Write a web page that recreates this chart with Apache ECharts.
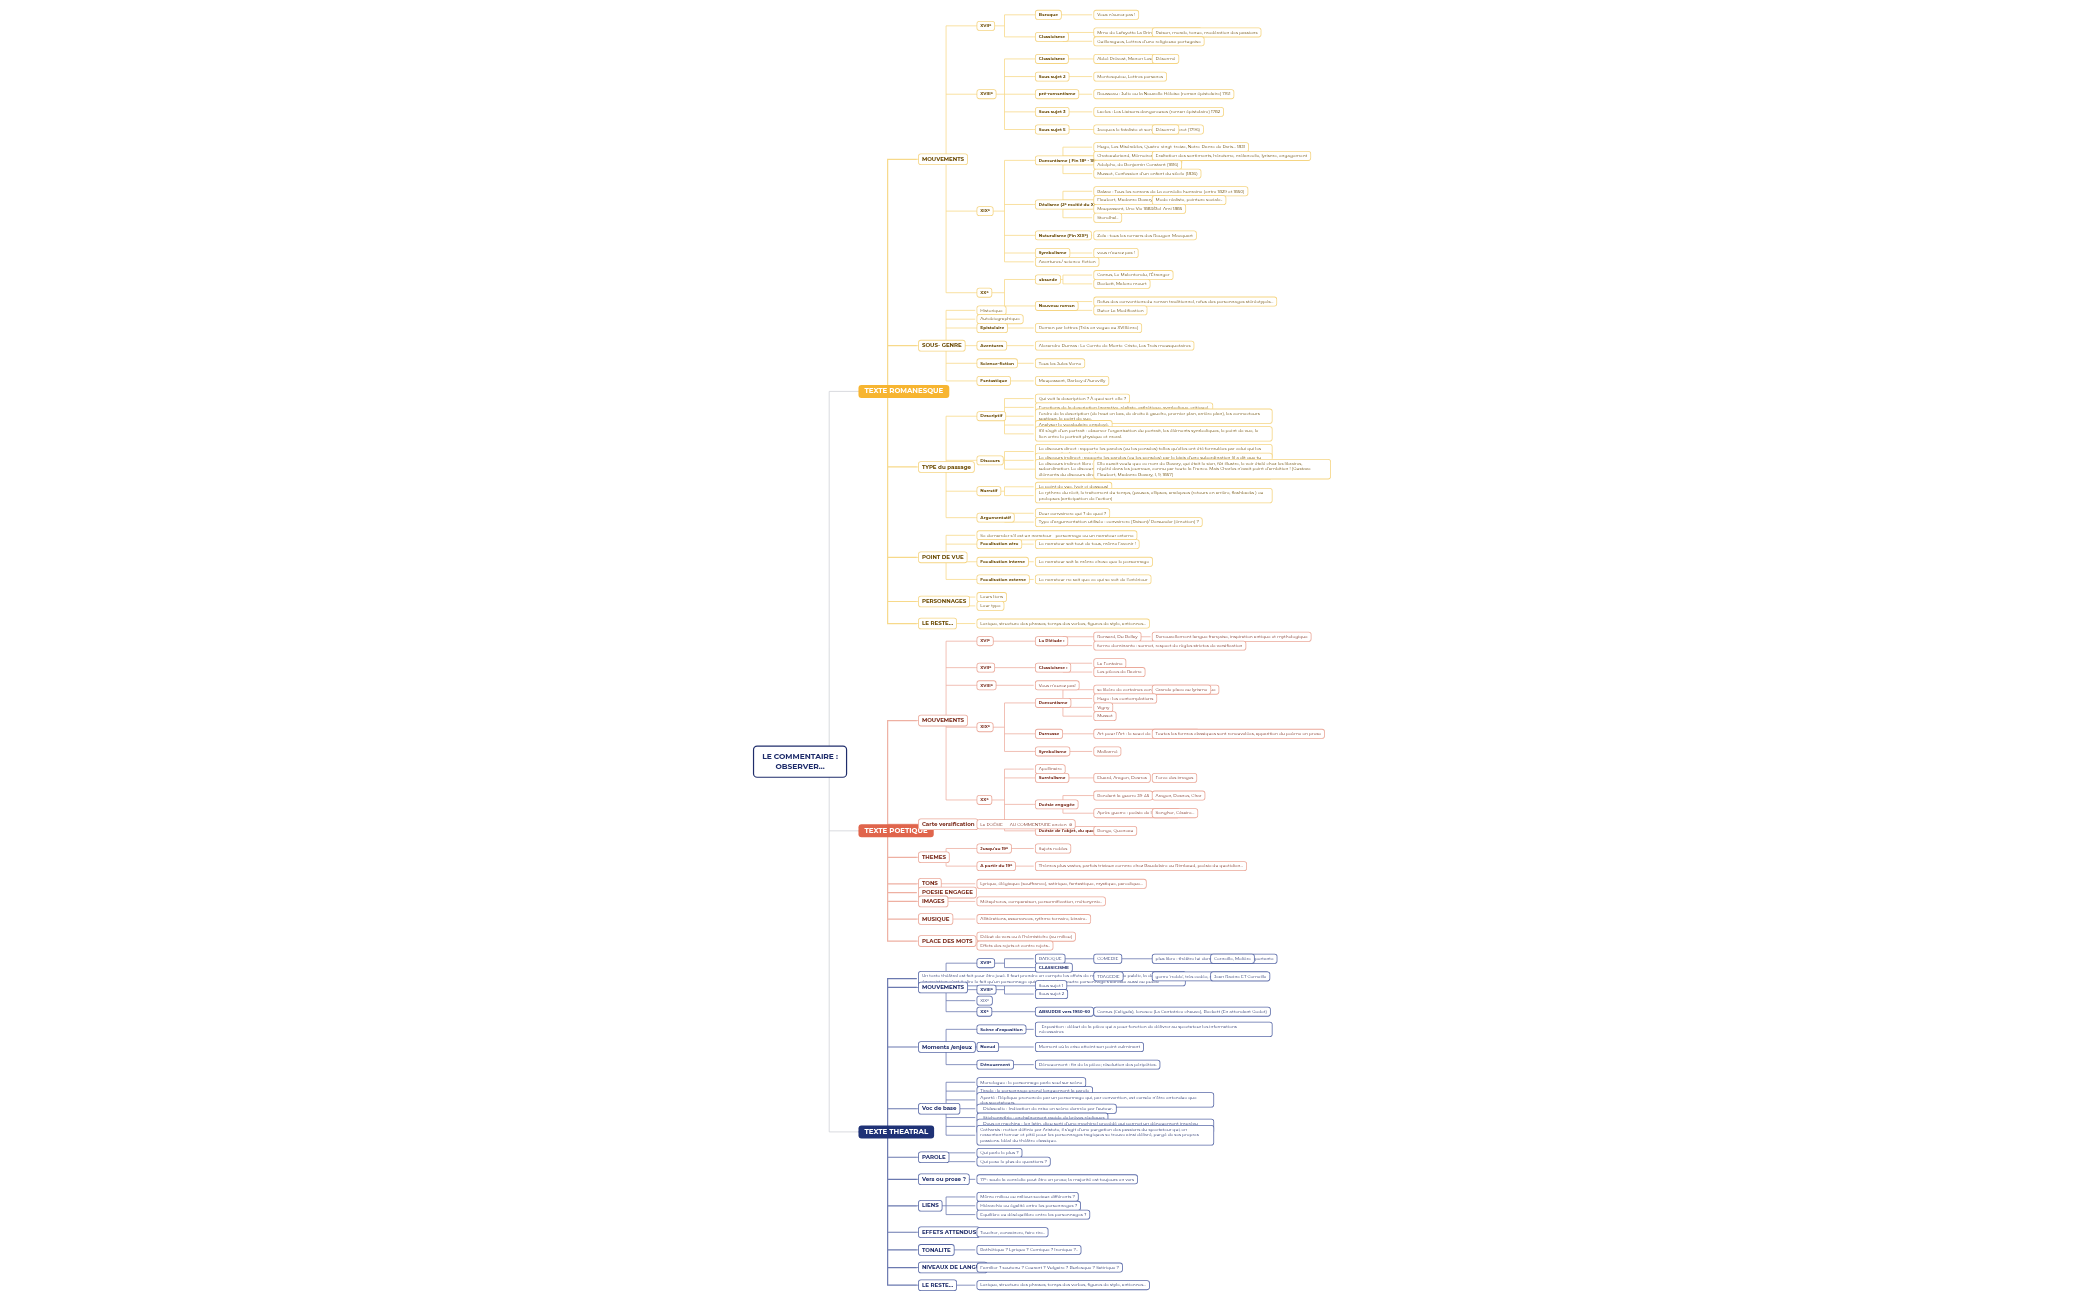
<!DOCTYPE html>
<html><head><meta charset="utf-8">
<script src="https://cdn.jsdelivr.net/npm/echarts@6/dist/echarts.min.js"></script>
<style>html,body{margin:0;background:#fff}#c{width:2099px;height:1300px}</style>
</head><body><div id="c"></div>
<script>
function n(name, children){ return children ? {name:name, children:children} : {name:name}; }

const romanesque = [
  n('MOUVEMENTS',[
    n('XVIIᵉ',[
      n('Baroque',[n('Vous n\'aurez pas !')]),
      n('Classicisme',[n('Mme de Lafayette La Princesse de Clèves (1678)',[n('Raison, morale, tenue, modération des passions')]), n('Guilleragues, Lettres d\'une religieuse portugaise')])
    ]),
    n('XVIIIᵉ',[
      n('Classicisme',[n('Abbé Prévost, Manon Lescaut (1731)',[n('Désormé')])]),
      n('Sous sujet 2',[n('Montesquieu, Lettres persanes')]),
      n('pré-romantisme',[n('Rousseau : Julie ou la Nouvelle Héloïse (roman épistolaire) 1761')]),
      n('Sous sujet 3',[n('Laclos : Les Liaisons dangereuses (roman épistolaire) 1782')]),
      n('Sous sujet 5',[n('Jacques le fataliste et son maître : Diderot (1796)',[n('Désormé')])])
    ]),
    n('XIXᵉ',[
      n('Romantisme ( Fin 18ᵉ - 1850) mais perdure en fait tout le siècle',[
        n('Hugo, Les Misérables, Quatre-vingt-treize, Notre-Dame de Paris... 1831'),
        n('Chateaubriand, Mémoires d\'outre-tombe (autobiographie/roman du \'moi\') 1848',[n('Exaltation des sentiments, héroïsme, mélancolie, lyrisme, engagement')]),
        n('Adolphe, de Benjamin Constant (1816)'),
        n('Musset, Confession d\'un enfant du siècle (1836)')]),
      n('Réalisme (2ᵉ moitié du XIXᵉ)',[
        n('Balzac : Tous les romans de La comédie humaine (entre 1829 et 1850)'),
        n('Flaubert, Madame Bovary 1857',[n('Mode réaliste, peinture sociale..')]),
        n('Maupassant, Une Vie 1883/Bel-Ami 1885'),
        n('Stendhal..')]),
      n('Naturalisme (Fin XIXᵉ)',[n('Zola : tous les romans des Rougon-Macquart')]),
      n('Symbolisme',[n('vous n\'aurez pas !')]),
      n('Aventures / science-fiction')
    ]),
    n('XXᵉ',[
      n('absurde',[n('Camus, Le Malentendu, l\'Étranger'), n('Beckett, Malone meurt')]),
      n('Nouveau roman',[n('Refus des conventions du roman traditionnel, refus des personnages stéréotypés...'), n('Butor La Modification')])
    ])
  ]),
  n('SOUS- GENRE',[
    n('Historique'), n('Autobiographique'),
    n('Epistolaire',[n('Roman par lettres (Très en vogue au XVIIIème)')]),
    n('Aventures',[n('Alexandre Dumas : Le Comte de Monte-Cristo, Les Trois mousquetaires')]),
    n('Science-fiction',[n('Tous les Jules Verne')]),
    n('Fantastique',[n('Maupassant, Barbey d\'Aurevilly')])
  ]),
  n('TYPE du passage',[
    n('Descriptif',[
      n('Qui voit la description ? À quoi sert-elle ?'),
      n('Fonctions de la description (narrative, réaliste, esthétique, symbolique, critique).'),
      n('l\'ordre de la description (de haut en bas, de droite à gauche, premier plan, arrière plan), les connecteurs spatiaux, le point de vue.'),
      n('Analyser le vocabulaire employé.'),
      n('S\'il s\'agit d\'un portrait : observer l\'organisation du portrait, les éléments symboliques, le point de vue, le lien entre le portrait physique et moral.')]),
    n('Discours',[
      n('Le discours direct : rapporte les paroles (ou les pensées) telles qu\'elles ont été formulées par celui qui les a prononcées (ou pensées).'),
      n('Le discours indirect : rapporte les paroles (ou les pensées) par le biais d\'une subordination (il a dit que tu ne viendrais pas.)'),
      n('Le discours indirect libre : rapporte les paroles (ou les pensées) de manière indirecte mais sans utiliser de subordination. Le discours indirect libre se fond dans le récit. Il conserve des marques du récit et des éléments du discours direct.',[
        n('Elle aurait voulu que ce nom de Bovary, qui était le sien, fût illustre, le voir étalé chez les libraires, répété dans les journaux, connu par toute la France. Mais Charles n\'avait point d\'ambition ! (Gustave Flaubert, Madame Bovary, I, 9, 1857)')])]),
    n('Narratif',[
      n('Le point de vue, (voir ci-dessous)'),
      n('Le rythme du récit, le traitement du temps, (pauses, ellipses, analepses (retours en arrière, flashbacks ) ou prolepses (anticipation de l\'action)')]),
    n('Argumentatif',[
      n('Pour convaincre qui ? de quoi ?'),
      n('Type d\'argumentation utilisée : convaincre (Raison)/ Persuader (émotion) ?')])
  ]),
  n('POINT DE VUE',[
    n('Se demander s\'il est un narrateur - personnage ou un narrateur externe'),
    n('Focalisation zéro',[n('Le narrateur sait tout de tous, même l\'avenir !')]),
    n('Focalisation interne',[n('Le narrateur sait la même chose que le personnage')]),
    n('Focalisation externe',[n('Le narrateur ne sait que ce qui se voit de l\'extérieur')])
  ]),
  n('PERSONNAGES',[n('Leurs liens'), n('Leur type')]),
  n('LE RESTE...',[n('Lexique, structure des phrases, temps des verbes, figures de style, antiennes...')])
];

const poetique = [
  n('MOUVEMENTS',[
    n('XVIᵉ',[n('La Pléiade :',[n('Ronsard, Du Bellay',[n('Renouvellement langue française, inspiration antique et mythologique')]), n('forme dominante : sonnet, respect de règles strictes de versification')])]),
    n('XVIIᵉ',[n('Classicisme :',[n('La Fontaine'), n('Les pièces de Racine')])]),
    n('XVIIIᵉ',[n('Vous n\'aurez pas!')]),
    n('XIXᵉ',[
      n('Romantisme',[n('se libère de certaines contraintes de la poésie classique',[n('Grande place au lyrisme')]), n('Hugo : les contemplations'), n('Vigny'), n('Musset')]),
      n('Parnasse',[n('Art pour l\'Art : le souci de la forme, parole fond',[n('Toutes les formes classiques sont renouvelées, apparition du poème en prose')])]),
      n('Symbolisme',[n('Mallarmé')])
    ]),
    n('XXᵉ',[
      n('Apollinaire'),
      n('Surréalisme',[n('Eluard, Aragon, Desnos',[n('Force des images')])]),
      n('Poésie engagée',[n('Pendant la guerre 39-45',[n('Aragon, Desnos, Char')]), n('Après-guerre : poésie de la négritude',[n('Senghor, Césaire...')])]),
      n('Poésie de l\'objet, du quotidien',[n('Ponge, Queneau')])
    ])
  ]),
  n('Carte versification',[n('La POÉSIE      AU COMMENTAIRE ancien  ⊘')]),
  n('THEMES',[n('Jusqu\'au 19ᵉ',[n('Sujets nobles')]), n('A partir du 19ᵉ',[n('Thèmes plus vastes, parfois triviaux comme chez Baudelaire ou Rimbaud, poésie du quotidien...')])]),
  n('TONS',[n('Lyrique, élégiaque (souffrance), satirique, fantastique, mystique, parodique...')]),
  n('POESIE ENGAGEE'),
  n('IMAGES',[n('Métaphores, comparaison, personnification, métonymie..')]),
  n('MUSIQUE',[n('Allitérations, assonances, rythme ternaire, binaire..')]),
  n('PLACE DES MOTS',[n('Début de vers ou à l\'hémistiche (au milieu)'), n('Effets des rejets et contre rejets..')])
];

const theatral = [
  n('Un texte théâtral est fait pour être joué. Il faut prendre en compte les effets de mise en scène, le public, la double énonciation, c\'est-à-dire le fait qu\'un personnage qui s\'adresse à un autre personnage s\'adresse aussi au public'),
  n('MOUVEMENTS',[
    n('XVIIᵉ',[n('BAROQUE'), n('CLASSICISME',[
      n('COMEDIE',[n('plus libre : théâtre lui donne une place plus importante',[n('Corneille, Molière')])]),
      n('TRAGEDIE',[n('genre \'noble\', très codée, respect des règles. saintes',[n('Jean Racine ET Corneille')])])])]),
    n('XVIIIᵉ',[n('Sous sujet 1'), n('Sous sujet 2')]),
    n('XIXᵉ'),
    n('XXᵉ',[n('ABSURDE vers 1950-60',[n('Camus (Caligula), Ionesco (La Cantatrice chauve), Beckett (En attendant Godot)')])])
  ]),
  n('Moments /enjeux',[
    n('Scène d\'exposition',[n('- Exposition : début de la pièce qui a pour fonction de délivrer au spectateur les informations nécessaires')]),
    n('Noeud',[n('Moment où la crise atteint son point culminant')]),
    n('Dénouement',[n('Dénouement : fin de la pièce; résolution des péripéties.')])
  ]),
  n('Voc de base',[
    n('Monologue : le personnage parle seul sur scène'),
    n('Tirade : le personnage prend longuement la parole'),
    n('Aparté : Réplique prononcée par un personnage qui, par convention, est censée n\'être entendue que des spectateurs.'),
    n('- Didascalie : Indication de mise en scène donnée par l\'auteur.'),
    n('- Stichomythie : enchaînement rapide de brèves répliques'),
    n('- Deus ex machina : (en latin, dieu sorti d\'une machine) procédé qui permet un dénouement imprévu par l\'intervention d\'un dieu ou d\'un être surnaturel, descendu sur scène au moyen d\'une machine'),
    n('Catharsis : notion définie par Aristote, il s\'agit d\'une purgation des passions du spectateur qui, en ressentant terreur et pitié pour les personnages tragiques se trouve ainsi délivré, purgé de ses propres passions. Idéal du théâtre classique.')
  ]),
  n('PAROLE',[n('Qui parle le plus ?'), n('Qui pose le plus de questions ?')]),
  n('Vers ou prose ?',[n('17ᵉ : seule la comédie peut être en prose; la majorité est toujours en vers')]),
  n('LIENS',[n('Même milieu ou milieux sociaux différents ?'), n('Hiérarchie ou égalité entre les personnages ?'), n('Equilibre ou déséquilibre entre les personnages ?')]),
  n('EFFETS ATTENDUS',[n('Toucher, convaincre, faire rire..')]),
  n('TONALITE',[n('Pathétique ? Lyrique ? Comique ? Ironique ?..')]),
  n('NIVEAUX DE LANGUE',[n('Familier ? soutenu ? Courant ? Vulgaire ? Burlesque ? Satirique ?')]),
  n('LE RESTE...',[n('Lexique, structure des phrases, temps des verbes, figures de style, antiennes...')])
];

const branchNames = ['TEXTE ROMANESQUE','TEXTE POETIQUE','TEXTE THEATRAL'];
const branchColors = [
  {main:'#f7b531', text:'#6b4a00', border:'#f5d583', line:'#f7d98a'},
  {main:'#e0654c', text:'#7a2a1a', border:'#eba99a', line:'#eeb0a2'},
  {main:'#1f3276', text:'#1f2d6b', border:'#5a6aa8', line:'#6b79b0'}
];

function styleNode(node, c, depth){
  const len = node.name.length;
  const longText = len > 60;
  const head = depth===2 && !longText;
  const fs = head ? 5.5 : 4.3;
  const maxW = longText && depth===2 ? 260 : 230;
  const natural = len * fs * 0.55;
  const bold = head || (depth<=4 && !!node.children && len < 70);
  node.label = {
    position:'right', distance:2, fontSize: fs,
    fontWeight: bold ? 'bold' : 'normal', color:c.text,
    width: natural > maxW ? maxW : undefined, overflow:'break', lineHeight: head?7:5.3,
    backgroundColor:'#fff', borderColor:c.border, borderWidth:0.8, borderRadius:2, padding:[1.5,3]
  };
  node.lineStyle = {color:c.line, width:0.8};
  if(node.children) node.children.forEach(ch=>styleNode(ch,c,depth+1));
}

const branches = [romanesque, poetique, theatral].map((kids,i)=>{
  const c = branchColors[i];
  kids.forEach(k=>styleNode(k,c,2));
  return {name:branchNames[i], children:kids,
    label:{position:'right', distance:0, fontSize:7, fontWeight:'bold', color:'#fff', backgroundColor:c.main, padding:[3,6], borderRadius:3},
    lineStyle:{color:c.line, width:1.2}};
});

const root = {name:'LE COMMENTAIRE :\nOBSERVER...', children:branches,
  label:{position:'right', distance:0, fontSize:7.5, fontWeight:'bold', color:'#1f2d6b', align:'center', backgroundColor:'#fff', borderColor:'#1f2d6b', borderWidth:1.2, borderRadius:3, padding:[5,8], lineHeight:10}};

const chart = echarts.init(document.getElementById('c'));
chart.setOption({
  animation:false,
  series:[{
    type:'tree', data:[root], orient:'LR', layout:'orthogonal',
    left:800, right:890, top:6, bottom:6,
    symbol:'circle', symbolSize:0.1, expandAndCollapse:false, initialTreeDepth:-1,
    edgeShape:'polyline', roam:false,
    label:{fontFamily:'Montserrat, Lato, sans-serif'},
    lineStyle:{width:0.8, curveness:0}
  }]
});
</script></body></html>
